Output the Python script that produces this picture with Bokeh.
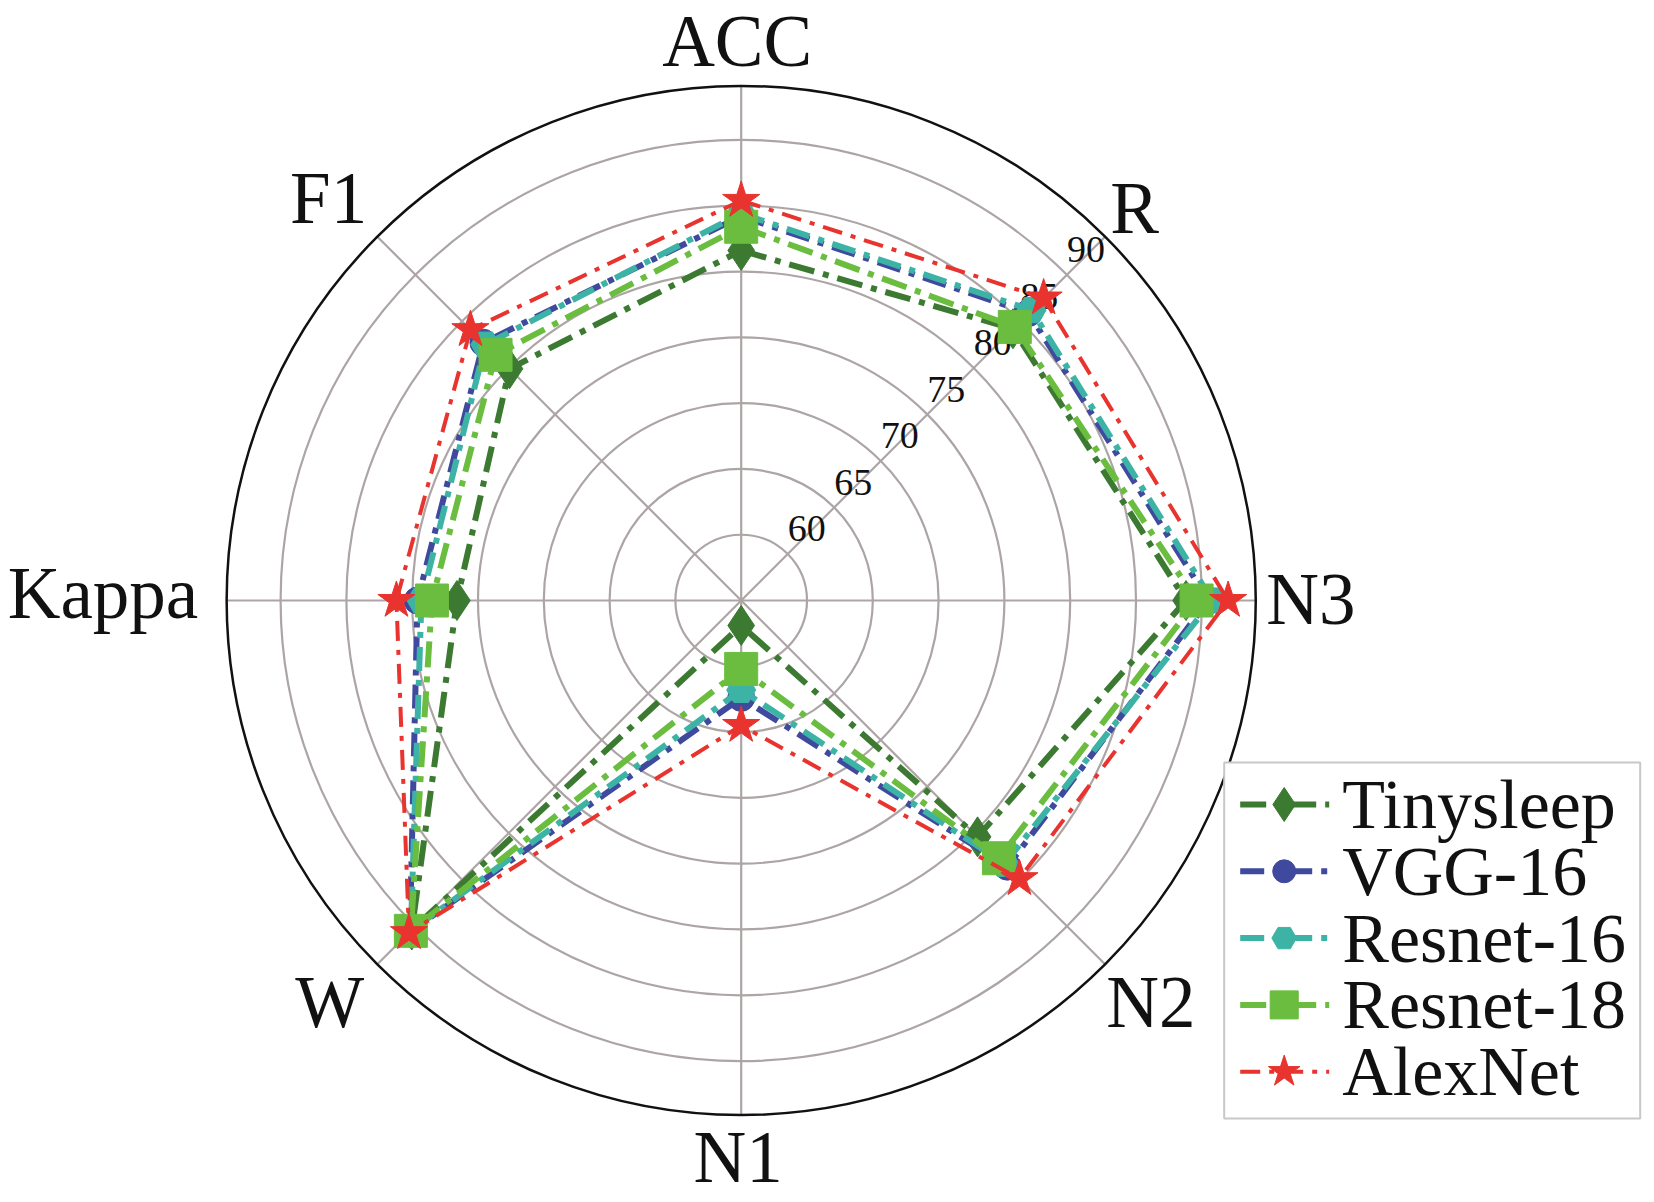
import numpy as np
from bokeh.plotting import figure
from bokeh.models import Range1d
from bokeh.embed import file_html
from bokeh.resources import INLINE
from bokeh.core.properties import value

# ---------------- data ----------------
categories = ["ACC", "R", "N3", "N2", "N1", "W", "Kappa", "F1"]
angles_deg = [90, 45, 0, -45, -90, -135, 180, 135]
models = ["Tinysleep", "VGG-16", "Resnet-16", "Resnet-18", "AlexNet"]
tinysleep = [81.6, 84.2, 88.8, 80.4, 56.9, 90.4, 76.6, 79.9]
vgg16 = [84.2, 85.9, 90.5, 83.6, 62.4, 90.6, 79.6, 82.7]
resnet16 = [84.4, 86.2, 90.8, 83.3, 61.8, 90.5, 79.3, 82.5]
resnet18 = [83.4, 84.4, 89.6, 82.7, 60.2, 90.5, 78.5, 81.4]
alexnet = [85.4, 87.5, 92.0, 84.9, 64.5, 90.7, 81.2, 84.1]
ring_ticks = [60, 65, 70, 75, 80, 85, 90]
r_center = 55
r_outer = 94.1

series = [tinysleep, vgg16, resnet16, resnet18, alexnet]

# ---------------- styles ----------------
colors = ["#3C7A32", "#3F4A9E", "#3DB3A6", "#6ABD3E", "#E8332E"]
markers = ["diamond", "circle", "hex", "square", "star"]
msizes = [40, 27, 29, 33, 39]
lwidths = [6, 6, 6, 6, 4]
dashes = ["26 9 6 9", "24 9 6 9", "24 9 6 9", "26 9 6 9", "20 9 5 9"]

PX = 13.16  # pixels per unit on radial axis
W, H = 1646, 1202
cx, cy = 740.7, 600.0
FONT = "Liberation Serif"

def radius(v):
    return (np.asarray(v, dtype=float) - r_center) * PX

theta = np.deg2rad(angles_deg)

p = figure(width=W, height=H, output_backend="svg", toolbar_location=None,
           x_range=Range1d(-cx, W - cx), y_range=Range1d(cy - H, cy),
           min_border=0, outline_line_color=None, background_fill_color="white")
p.axis.visible = False
p.grid.visible = False

# rings
ring_r = radius(ring_ticks)
p.circle(x=[0] * len(ring_r), y=[0] * len(ring_r), radius=ring_r,
         fill_color=None, line_color="#ADA5A5", line_width=2.2)
# spokes
R_out = float(radius(r_outer))
p.segment(x0=[0] * 8, y0=[0] * 8, x1=list(R_out * np.cos(theta)), y1=list(R_out * np.sin(theta)),
          line_color="#ADA5A5", line_width=2.2)
# outer circle
p.circle(x=[0], y=[0], radius=[R_out], fill_color=None, line_color="#111111", line_width=2.5)

# radial tick labels along 45 degrees
c45 = np.cos(np.deg2rad(45))
p.text(x=list(ring_r * c45 + 19), y=list(ring_r * c45 + 25), text=[str(t) for t in ring_ticks],
       text_font=value(FONT), text_font_size="38px", text_color="#111111",
       text_align="center", text_baseline="middle")

# category labels (positions relative to the centre, in pixels)
lab_pos = {
    "ACC": (-4, 559, "center"),
    "R": (369, 392, "left"),
    "N3": (525, 1, "left"),
    "N2": (365, -402, "left"),
    "N1": (-3, -557, "center"),
    "W": (-377, -402, "right"),
    "Kappa": (-543, 7, "right"),
    "F1": (-374, 402, "right"),
}
for c in categories:
    x, y, al = lab_pos[c]
    p.text(x=[x], y=[y], text=[c], text_font=value(FONT), text_font_size="73px",
           text_color="#111111", text_align=al, text_baseline="middle")

# series
for name, vals, col, mk, ms, lw, ds in zip(models, series, colors, markers, msizes, lwidths, dashes):
    r = radius(vals)
    xs = r * np.cos(theta)
    ys = r * np.sin(theta)
    xl = list(xs) + [xs[0]]
    yl = list(ys) + [ys[0]]
    p.line(xl, yl, line_color=col, line_width=lw, line_dash=ds)
    p.scatter(list(xs), list(ys), marker=mk, size=ms, fill_color=col, line_color=col)

# legend (drawn by hand so its rows can be as tight as in the original)
box_l, box_r, box_t, box_b = 483, 899, -162, -518
p.quad(left=[box_l], right=[box_r], top=[box_t], bottom=[box_b],
       fill_color="white", line_color="#C8C8C8", line_width=2)
row_y0, row_step = -204, 66.8
for i, (name, col, mk, ms, lw, ds) in enumerate(zip(models, colors, markers, msizes, lwidths, dashes)):
    yy = row_y0 - i * row_step
    p.line([499, 588], [yy, yy], line_color=col, line_width=lw, line_dash=ds)
    p.scatter([543], [yy], marker=mk, size=ms * 0.85, fill_color=col, line_color=col)
    p.text(x=[601], y=[yy], text=[name], text_font=value(FONT), text_font_size="70px",
           text_color="#111111", text_align="left", text_baseline="middle")

open("out.html", "w").write(file_html(p, INLINE))
